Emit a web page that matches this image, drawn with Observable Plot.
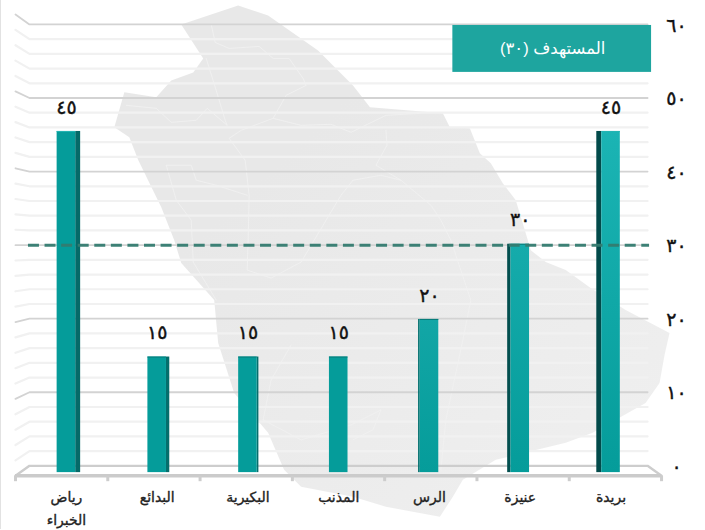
<!DOCTYPE html>
<html lang="ar">
<head>
<meta charset="utf-8">
<script src="https://cdn.jsdelivr.net/npm/d3@7"></script>
<script src="https://cdn.jsdelivr.net/npm/@observablehq/plot@0.6"></script>
<style>html,body{margin:0;padding:0;background:#fff}svg{display:block;border-left:1px solid #e2e2e2;box-sizing:border-box}</style>
</head>
<body>
<div id="chart"></div>
<script>
const categories = ["رياض الخبراء","البدائع","البكيرية","المذنب","الرس","عنيزة","بريدة"];
const values = [45,15,15,15,20,30,45];
const valueLabels = ["٤٥","١٥","١٥","١٥","٢٠","٣٠","٤٥"];
const tickValues = [0,10,20,30,40,50,60];
const tickLabels = ["٠","١٠","٢٠","٣٠","٤٠","٥٠","٦٠"];
const minorValues = [2,4,6,8,12,14,16,18,22,24,26,28,32,34,36,38,42,44,46,48,52,54,56,58];
const target = 30;
const targetLabel = "المستهدف (٣٠)";
const categoryLines = [["رياض","الخبراء"],["البدائع"],["البكيرية"],["المذنب"],["الرس"],["عنيزة"],["بريدة"]];
// traced outline of the backdrop map, in picture units
const mapOutline = [[180,24],[237,5],[267,15],[317,50],[352,85],[369,107],[442,113],[449,127],[469,128],[479,153],[490,163],[502,183],[515,200],[525,233],[530,250],[545,262],[565,270],[590,288],[625,310],[669,333],[664,355],[659,383],[645,403],[592,433],[565,443],[495,460],[462,480],[452,497],[439,517],[385,507],[352,497],[300,487],[283,470],[267,433],[233,393],[217,343],[213,300],[180,263],[173,240],[160,207],[137,160],[128,137],[113,127],[123,92],[155,97],[170,80],[192,72],[202,58]];
const mapBorders = [
 [[210,24],[214,42],[228,48],[258,46],[272,58],[288,58],[302,78],[305,85],[285,95],[272,118],[300,125],[330,124],[350,132],[385,115],[420,113]],
 [[205,58],[215,90],[224,120],[226,125],[206,108],[195,120],[170,122],[155,108],[125,105]],
 [[272,118],[240,130],[228,138],[244,160],[248,195],[247,240],[246,270],[270,278],[300,262],[340,195],[352,180]],
 [[165,165],[190,165],[195,180],[215,185],[246,195]],
 [[165,165],[175,200],[190,220],[192,262],[215,300]],
 [[385,130],[386,145],[375,165],[400,180],[430,205],[440,220],[450,240],[470,300],[462,340],[445,420],[440,470]],
 [[352,180],[380,175],[400,180]],
 [[290,345],[270,380],[262,420]],[[262,420],[300,440],[350,425],[380,410],[372,430],[352,440]]
];

const pxPerIndex = 90.9, x0 = 65, W = 705, H = 530;
const yBase = 470, pxPerValue = 7.53;
const invX = px => (px - x0) / pxPerIndex;
const invY = py => (yBase - py) / pxPerValue;
// the 3-D wall: back and front planes relative to the bars' plane
const back = v => invY(466 - 7.367 * v);
const front = v => invY(476 - 7.7 * v);
const wallFrontL = invX(14), wallBackL = invX(28), wallBackR = invX(647), wallFrontR = invX(661);

const gridPath = v => [
  {x: wallFrontL, y: front(v), v},
  {x: wallBackL, y: back(v), v},
  {x: wallBackR, y: back(v), v}
];
const barW = 9.3 / pxPerIndex;
const side = i => (3 - i) * 1.65 / pxPerIndex;
const idx = categories.map((_, i) => i);
const barBottom = invY(472.8);
const ttop = [ "#059c9a","#059c9a","#059c9a","#059c9a","#12a6a6","#15abab","#1bb4b4" ];
const sideCol = ["#056a68","#056e6c","#056e6c","#056e6c","#067270","#034f4f","#024a4a"];
const capCol = ["#25b5b3","#067a78","#067a78","#067a78","#067a78","#067a78","#25b5b3"];
const font = "'Liberation Sans','DejaVu Sans',sans-serif";

const defs = () => {
  const d = d3.create("svg:defs");
  ttop.forEach((c, i) => {
    const g = d.append("linearGradient").attr("id", "g" + i).attr("x1", 0).attr("x2", 0).attr("y1", 0).attr("y2", 1);
    g.append("stop").attr("offset", 0).attr("stop-color", c);
    g.append("stop").attr("offset", 1).attr("stop-color", "#059c9a");
  });
  const m = d.append("linearGradient").attr("id", "mapFill").attr("x1", 0).attr("x2", 1).attr("y1", 0).attr("y2", 1);
  m.append("stop").attr("offset", 0.3).attr("stop-color", "#e8e8e8");
  m.append("stop").attr("offset", 1).attr("stop-color", "#f0f0f0");
  return d.node();
};

const chart = Plot.plot({
  width: W, height: H, margin: 0,
  x: {domain: [invX(0), invX(W)], range: [0, W], axis: null},
  y: {domain: [invY(0), invY(H)], range: [0, H], axis: null},
  color: {type: "identity"},
  style: {background: "#fff", direction: "rtl"},
  marks: [
    defs,
    Plot.line(mapOutline, {x: d => invX(d[0]), y: d => invY(d[1]), fill: "url(#mapFill)", stroke: "none", curve: "linear-closed"}),
    ...mapBorders.map(b => Plot.line(b, {x: d => invX(d[0]), y: d => invY(d[1]), stroke: "#f1f1f1", strokeWidth: 0.9})),
    Plot.line(minorValues.flatMap(gridPath), {x: "x", y: "y", z: "v", stroke: "#f1f1f1", strokeWidth: 2.2}),
    Plot.line(tickValues.filter(v => v > 0).flatMap(gridPath), {x: "x", y: "y", z: "v", stroke: "#d3d3d3", strokeWidth: 1.8}),
    // floor
    Plot.line([{x: wallFrontL, y: front(0)}, {x: wallBackL, y: back(0)}, {x: wallBackR, y: back(0)}, {x: wallFrontR, y: front(0)}], {x: "x", y: "y", stroke: "#cdcdcd", strokeWidth: 2.4}),
    Plot.ruleY([front(0)], {x1: wallFrontL, x2: wallFrontR, stroke: "#cbcbcb", strokeWidth: 3.5}),
    Plot.link(d3.range(8), {x1: i => wallFrontL + i * (wallFrontR - wallFrontL) / 7, x2: i => wallFrontL + i * (wallFrontR - wallFrontL) / 7, y1: front(0), y2: front(-0.7), stroke: "#cdcdcd", strokeWidth: 3}),
    // bar side faces
    Plot.rect(idx, {x1: i => i + (side(i) > 0 ? barW : -barW), x2: i => i + (side(i) > 0 ? barW : -barW) + side(i), y1: barBottom, y2: i => values[i], fill: i => sideCol[i]}),
    // bar front faces
    Plot.rect(idx, {x1: i => i - barW, x2: i => i + barW, y1: barBottom, y2: i => values[i], fill: i => `url(#g${i})`}),
    // bar top rims
    Plot.rect(idx, {x1: i => i - barW, x2: i => i + barW, y1: i => values[i], y2: i => values[i] - 0.13, fill: i => capCol[i]}),
    // target line
    Plot.ruleY([target], {x1: invX(27), x2: invX(649), y: () => back(target), stroke: "#347b70", strokeWidth: 3, strokeDasharray: "11 5.6", strokeOpacity: 0.95}),
    // target box
    Plot.rect([targetLabel], {x1: invX(452), x2: invX(651), y1: invY(25), y2: invY(72), fill: "#1ea59f"}),
    Plot.text([targetLabel], {x: invX(552), y: invY(48), text: d => d, fill: "#fff", fontSize: 16.5, fontFamily: font}),
    // value labels
    Plot.text(idx, {x: i => i, y: i => values[i], dy: -24, text: i => valueLabels[i], fontSize: 19, stroke: "#111", strokeWidth: 0.4, fill: "#111", fontFamily: font}),
    // right axis
    Plot.text(tickValues, {x: invX(676), y: v => back(v), dy: 1, text: (v, i) => tickLabels[i], fontSize: 19, stroke: "#111", strokeWidth: 0.4, fill: "#111", fontFamily: font}),
    // category labels
    Plot.text(categoryLines.flatMap((ls, i) => ls.map((l, j) => ({i, j, l}))), {x: d => d.i, y: d => invY(498 + d.j * 22.5), text: "l", fontSize: 14, stroke: "#222", strokeWidth: 0.35, fill: "#222", fontFamily: font})
  ]
});
document.getElementById("chart").appendChild(chart);
</script>
</body>
</html>
